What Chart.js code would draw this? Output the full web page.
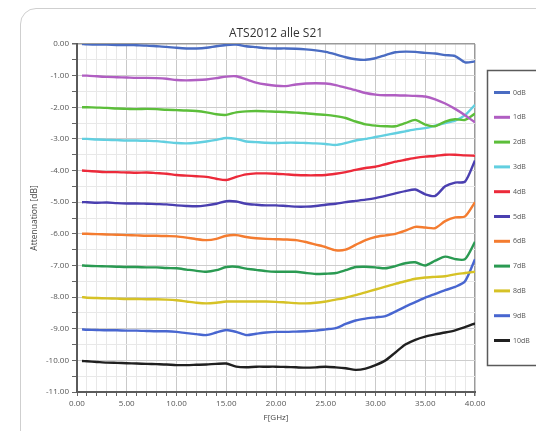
<!DOCTYPE html>
<html><head><meta charset="utf-8">
<script src="https://cdn.jsdelivr.net/npm/chart.js@4.4.0/dist/chart.umd.min.js"></script>
<style>
html,body{margin:0;padding:0;background:#fff;width:536px;height:431px;overflow:hidden}
#card{position:absolute;left:20px;top:8px;width:540px;height:450px;border:1px solid #cfcfcf;border-radius:16px;box-sizing:border-box}
#wrap{position:absolute;left:0;top:0;width:536px;height:431px}
</style></head><body>
<div id="card"></div>
<div id="wrap"><canvas id="c" width="536" height="431"></canvas></div>
<script>
const chartTitle = 'ATS2012 alle S21';
const xTitle = 'F[GHz]';
const yTitle = 'Attenuation [dB]';
const seriesLabels = ['0dB','1dB','2dB','3dB','4dB','5dB','6dB','7dB','8dB','9dB','10dB'];
const seriesColors = ['#4a6cc2','#b05ec2','#5cbe3a','#62cfe0','#ec2a3a','#4a3fb0','#f47c30','#2a9a52','#d6c226','#4866d0','#202020'];
const freq = [0.5,1,2,3,4,5,6,7,8,9,10,11,12,13,14,15,16,17,18,19,20,21,22,23,24,25,26,27,28,29,30,31,32,33,34,35,36,37,38,39,40];
const s0dB = [0,-0.01,-0.02,-0.02,-0.03,-0.03,-0.04,-0.05,-0.07,-0.09,-0.12,-0.14,-0.14,-0.12,-0.07,-0.03,-0.02,-0.07,-0.1,-0.13,-0.14,-0.14,-0.15,-0.17,-0.2,-0.25,-0.33,-0.42,-0.48,-0.5,-0.45,-0.35,-0.26,-0.24,-0.25,-0.28,-0.3,-0.35,-0.38,-0.58,-0.55];
const s1dB = [-1.0,-1.0,-1.02,-1.04,-1.05,-1.06,-1.07,-1.07,-1.08,-1.1,-1.14,-1.15,-1.14,-1.12,-1.08,-1.03,-1.02,-1.12,-1.22,-1.28,-1.32,-1.33,-1.28,-1.25,-1.24,-1.25,-1.3,-1.38,-1.46,-1.55,-1.6,-1.62,-1.62,-1.63,-1.64,-1.66,-1.75,-1.88,-2.05,-2.25,-2.48];
const s2dB = [-2.0,-2.0,-2.01,-2.02,-2.04,-2.05,-2.06,-2.05,-2.06,-2.08,-2.09,-2.1,-2.12,-2.16,-2.22,-2.24,-2.16,-2.13,-2.12,-2.13,-2.14,-2.15,-2.17,-2.19,-2.22,-2.24,-2.28,-2.34,-2.45,-2.54,-2.58,-2.6,-2.6,-2.5,-2.4,-2.55,-2.6,-2.45,-2.38,-2.4,-2.2];
const s3dB = [-3.0,-3.0,-3.02,-3.03,-3.04,-3.05,-3.05,-3.06,-3.07,-3.1,-3.13,-3.14,-3.12,-3.08,-3.03,-2.97,-3.0,-3.08,-3.1,-3.12,-3.13,-3.12,-3.12,-3.13,-3.14,-3.16,-3.19,-3.13,-3.05,-3.0,-2.94,-2.88,-2.82,-2.76,-2.7,-2.66,-2.58,-2.5,-2.42,-2.25,-1.92];
const s4dB = [-4.0,-4.01,-4.03,-4.05,-4.05,-4.06,-4.07,-4.06,-4.08,-4.1,-4.14,-4.16,-4.18,-4.2,-4.26,-4.3,-4.2,-4.12,-4.09,-4.09,-4.1,-4.12,-4.14,-4.15,-4.15,-4.14,-4.1,-4.05,-3.98,-3.92,-3.88,-3.8,-3.72,-3.66,-3.6,-3.56,-3.54,-3.5,-3.5,-3.52,-3.53];
const s5dB = [-5.0,-5.0,-5.02,-5.01,-5.03,-5.04,-5.04,-5.05,-5.06,-5.07,-5.1,-5.12,-5.13,-5.1,-5.05,-4.97,-4.98,-5.05,-5.08,-5.1,-5.1,-5.12,-5.14,-5.14,-5.12,-5.08,-5.05,-5.0,-4.96,-4.92,-4.87,-4.8,-4.72,-4.65,-4.6,-4.75,-4.8,-4.5,-4.38,-4.35,-3.68];
const s6dB = [-6.0,-6.0,-6.01,-6.02,-6.03,-6.04,-6.05,-6.06,-6.06,-6.07,-6.08,-6.12,-6.17,-6.2,-6.16,-6.06,-6.04,-6.1,-6.14,-6.16,-6.17,-6.18,-6.2,-6.26,-6.34,-6.42,-6.52,-6.5,-6.35,-6.2,-6.1,-6.05,-6.0,-5.9,-5.78,-5.8,-5.82,-5.6,-5.48,-5.45,-5.0];
const s7dB = [-7.0,-7.01,-7.02,-7.03,-7.04,-7.05,-7.05,-7.06,-7.06,-7.08,-7.09,-7.13,-7.17,-7.2,-7.15,-7.05,-7.04,-7.1,-7.14,-7.18,-7.2,-7.2,-7.2,-7.24,-7.27,-7.26,-7.24,-7.15,-7.05,-7.04,-7.06,-7.09,-7.02,-6.93,-6.9,-7.0,-6.85,-6.72,-6.8,-6.8,-6.25];
const s8dB = [-8.0,-8.02,-8.03,-8.04,-8.05,-8.06,-8.06,-8.07,-8.07,-8.08,-8.1,-8.14,-8.18,-8.2,-8.18,-8.14,-8.14,-8.14,-8.14,-8.14,-8.15,-8.17,-8.19,-8.2,-8.18,-8.14,-8.08,-8.02,-7.94,-7.85,-7.76,-7.67,-7.58,-7.5,-7.42,-7.38,-7.36,-7.34,-7.28,-7.24,-7.2];
const s9dB = [-9.02,-9.03,-9.04,-9.05,-9.05,-9.06,-9.06,-9.07,-9.08,-9.08,-9.1,-9.14,-9.17,-9.2,-9.12,-9.04,-9.1,-9.2,-9.16,-9.12,-9.1,-9.1,-9.09,-9.08,-9.06,-9.02,-8.98,-8.85,-8.74,-8.68,-8.64,-8.6,-8.46,-8.3,-8.16,-8.02,-7.9,-7.78,-7.68,-7.5,-6.8];
const s10dB = [-10.02,-10.03,-10.05,-10.07,-10.08,-10.09,-10.1,-10.11,-10.12,-10.13,-10.15,-10.15,-10.14,-10.13,-10.11,-10.1,-10.2,-10.22,-10.2,-10.2,-10.2,-10.21,-10.22,-10.23,-10.22,-10.2,-10.22,-10.25,-10.3,-10.26,-10.15,-10.0,-9.75,-9.5,-9.35,-9.25,-9.18,-9.12,-9.05,-8.95,-8.83];
const seriesValues = [s0dB,s1dB,s2dB,s3dB,s4dB,s5dB,s6dB,s7dB,s8dB,s9dB,s10dB];

const datasets = seriesValues.map((vals,i)=>({
  label: seriesLabels[i],
  data: vals.map((v,j)=>({x:freq[j],y:v})),
  borderColor: seriesColors[i],
  backgroundColor: seriesColors[i],
  borderWidth: 2.4,
  pointRadius: 0,
  tension: 0.25,
  fill: false
}));

const FONT = '"Open Sans", "Liberation Sans", sans-serif';

const boxLegend = {
  id:'boxLegend',
  afterDraw(chart){
    const ctx = chart.ctx;
    ctx.save();
    ctx.strokeStyle='#5a5a5a'; ctx.lineWidth=1.5;
    ctx.strokeRect(487.5,70.5,70,295);
    chart.data.datasets.forEach((ds,i)=>{
      const y = 92.5 + i*24.8;
      ctx.strokeStyle = ds.borderColor; ctx.lineWidth=3;
      ctx.beginPath(); ctx.moveTo(494,y); ctx.lineTo(510,y); ctx.stroke();
      ctx.fillStyle='#555'; ctx.font='7px '+FONT; ctx.textBaseline='middle'; ctx.textAlign='left';
      ctx.fillText(ds.label,513,y);
    });
    ctx.restore();
  }
};

new Chart(document.getElementById('c'), {
  type:'line',
  data:{datasets},
  plugins:[boxLegend],
  options:{
    responsive:false,
    animation:false,
    devicePixelRatio:1,
    layout:{padding:{top:18,right:61,left:0,bottom:0}},
    plugins:{
      legend:{display:false},
      tooltip:{enabled:false},
      title:{display:true,text:chartTitle,fullSize:false,color:'#333',font:{family:FONT,size:12,weight:'normal'},padding:{top:8,bottom:3.6}}
    },
    scales:{
      x:{
        type:'linear',min:0,max:40,
        afterFit(s){s.height=39;},
        ticks:{stepSize:1,autoSkip:false,maxRotation:0,color:'#555',font:{family:FONT,size:8},padding:3,
          callback:(v)=> (Math.round(v)%5===0 ? Number(v).toFixed(2) : '')},
        grid:{
          color:(c)=>{const v=c.tick.value; if(v===40) return '#9a9a9a'; return (Math.round(v)%5===0)?'#c9c9c9':'#e8e8e8';},
          lineWidth:(c)=> c.tick.value===40?1.5:1,
          tickColor:'#666',tickLength:4,drawTicks:true
        },
        border:{display:true,color:'#5a5a5a',width:2},
        title:{display:true,text:xTitle,color:'#444',font:{family:FONT,size:8},padding:{top:0,bottom:8}}
      },
      y:{
        type:'linear',min:-11,max:0,
        afterFit(s){s.width=77;},
        ticks:{stepSize:0.5,autoSkip:false,color:'#555',font:{family:FONT,size:8},padding:3,
          callback:(v)=>{const r=Math.round(v*2); return (r%2===0)? Number(v).toFixed(2) : '';}},
        grid:{
          color:(c)=>{const v=c.tick.value; if(v===0) return '#9a9a9a'; return (Math.round(v*2)%2===0)?'#cdcdcd':'#e8e8e8';},
          lineWidth:(c)=> c.tick.value===0?1.5:1,
          tickColor:'#666',tickLength:5,drawTicks:true
        },
        border:{display:true,color:'#5a5a5a',width:2},
        title:{display:true,text:yTitle,color:'#444',font:{family:FONT,size:8.5},padding:{top:29,bottom:0}}
      }
    }
  }
});
</script>
</body></html>
